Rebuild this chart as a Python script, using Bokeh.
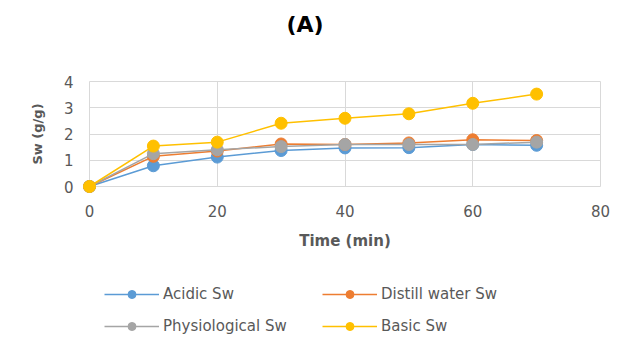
import math
from bokeh.plotting import figure
from bokeh.models import Legend, LegendItem, FixedTicker, Range1d, Grid, Title
from bokeh.core.properties import value
from bokeh.embed import file_html
from bokeh.resources import INLINE

time_min = [0, 10, 20, 30, 40, 50, 60, 70]
acidic = [0, 0.79, 1.12, 1.37, 1.47, 1.48, 1.6, 1.57]
distill = [0, 1.15, 1.35, 1.62, 1.6, 1.66, 1.78, 1.75]
physio = [0, 1.25, 1.4, 1.52, 1.6, 1.6, 1.6, 1.69]
basic = [0, 1.54, 1.69, 2.41, 2.6, 2.77, 3.17, 3.52]

series_names = ["Acidic Sw", "Distill water Sw", "Physiological Sw", "Basic Sw"]
series_vals = [acidic, distill, physio, basic]
colors = ["#5b9bd5", "#ed7d31", "#a5a5a5", "#ffc000"]
x_ticks = [0, 20, 40, 60, 80]
y_ticks = [0, 1, 2, 3, 4]
x_title = "Time (min)"
y_title = "Sw (g/g)"

FONT = "DejaVu Sans"
GRID = "#d9d9d9"
TXT = "#595959"

# layout (pixels in the canvas)
W, H, TOP = 621, 344, 74
PX_X0, PX_X1 = 89, 600      # where x = 0 and x = 80 fall
PX_Y0, PX_Y1 = 186, 81      # where y = 0 and y = 4 fall
xs = (PX_X1 - PX_X0) / (x_ticks[-1] - x_ticks[0])
ys = (PX_Y0 - PX_Y1) / (y_ticks[-1] - y_ticks[0])
x_start = x_ticks[0] - PX_X0 / xs
x_end = x_ticks[-1] + (W - PX_X1) / xs
y_end = y_ticks[-1] + (PX_Y1 - TOP) / ys
y_start = y_ticks[0] - (H - PX_Y0) / ys

p = figure(width=W, height=H, output_backend="svg", toolbar_location=None,
           x_range=Range1d(x_start, x_end), y_range=Range1d(y_start, y_end),
           x_axis_location=None, y_axis_location=None,
           min_border_left=0, min_border_right=0, min_border_top=TOP, min_border_bottom=0)

p.title.text = "(A)"
p.title.align = "left"
p.title.offset = 286
p.title.standoff = 0
p.title.text_font = FONT
p.title.text_font_size = "22px"
p.title.text_font_style = "bold"
p.title.text_color = "#000000"

top_spacer = Title(text=" ", text_font_size="10px", standoff=25)
p.add_layout(top_spacer, "above")

p.outline_line_color = None
p.background_fill_color = "white"
p.border_fill_color = "white"
p.grid.visible = False

xgrid = Grid(dimension=0, ticker=FixedTicker(ticks=x_ticks), grid_line_color=GRID,
             bounds=(x_ticks[0], x_ticks[-1]))
ygrid = Grid(dimension=1, ticker=FixedTicker(ticks=y_ticks), grid_line_color=GRID,
             bounds=(y_ticks[0], y_ticks[-1]))
if "cross_bounds" in Grid.properties():
    xgrid.cross_bounds = (y_ticks[0], y_ticks[-1])
    ygrid.cross_bounds = (x_ticks[0], x_ticks[-1])
p.add_layout(xgrid)
p.add_layout(ygrid)

# axis tick labels and titles as text
p.text(x=x_ticks, y=[y_ticks[0]] * len(x_ticks), text=[str(t) for t in x_ticks],
       text_font=value(FONT), text_font_size="15px", text_color=TXT,
       text_align="center", text_baseline="middle", y_offset=24)
p.text(x=[x_ticks[0]] * len(y_ticks), y=y_ticks, text=[str(t) for t in y_ticks],
       text_font=value(FONT), text_font_size="15px", text_color=TXT,
       text_align="right", text_baseline="middle", x_offset=-16)
p.text(x=[(x_ticks[0] + x_ticks[-1]) / 2], y=[y_ticks[0]], text=[x_title],
       text_font=value(FONT), text_font_size="15px", text_font_style="bold", text_color=TXT,
       text_align="center", text_baseline="middle", y_offset=54)
p.text(x=[x_ticks[0]], y=[(y_ticks[0] + y_ticks[-1]) / 2], text=[y_title], angle=math.pi / 2,
       text_font=value(FONT), text_font_size="13px", text_font_style="bold", text_color=TXT,
       text_align="center", text_baseline="middle", x_offset=-52)

items = []
for name, vals, c in zip(series_names, series_vals, colors):
    l = p.line(time_min, vals, line_color=c, line_width=1.5)
    s = p.scatter(time_min, vals, size=12, fill_color=c, line_color=c)
    items.append(LegendItem(label=name, renderers=[l, s]))

legend = Legend(items=items, ncols=2, orientation="horizontal", location=(104, H - 336),
                label_text_font=FONT, label_text_font_size="15px", label_text_color=TXT,
                glyph_width=55, glyph_height=20, label_height=20, label_standoff=4,
                spacing=12, label_width=147, padding=0, margin=0,
                border_line_color=None, background_fill_color=None)
p.add_layout(legend, "center")

open("out.html", "w").write(file_html(p, INLINE))
